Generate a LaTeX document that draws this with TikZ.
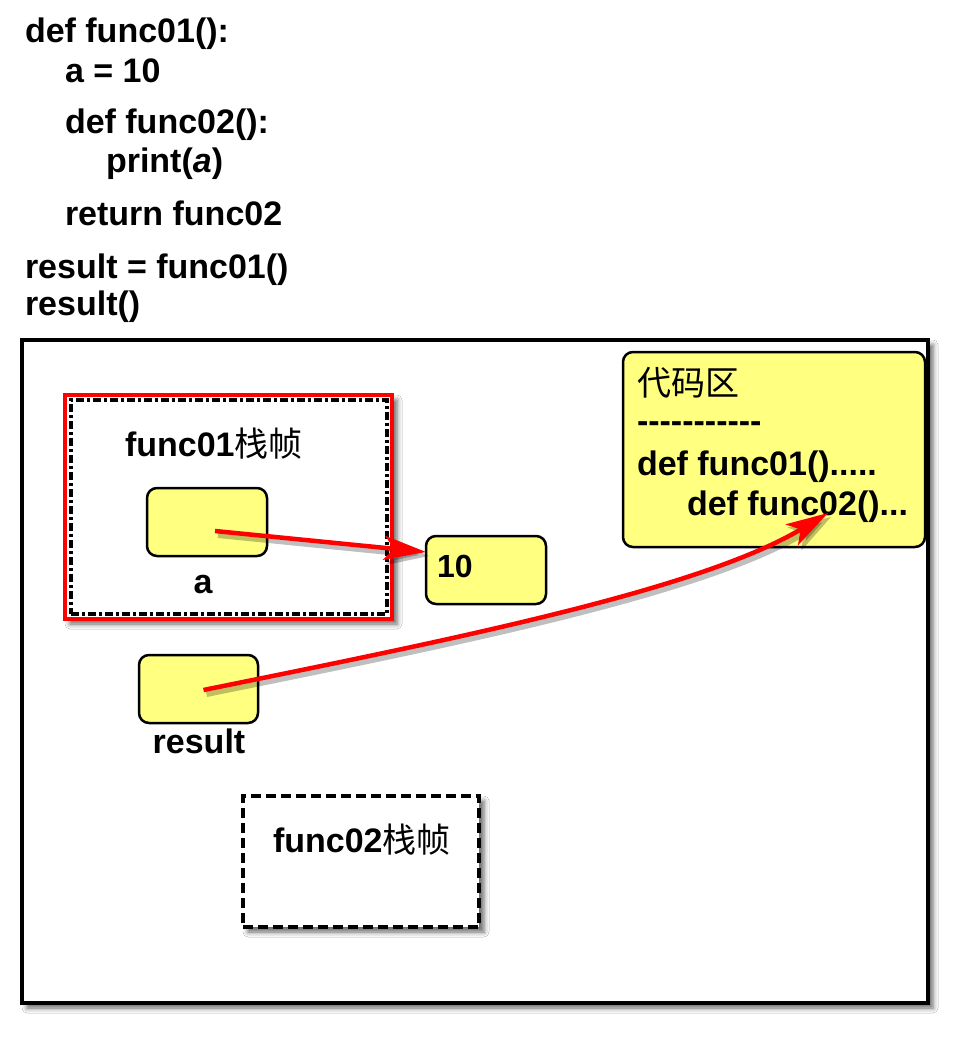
\documentclass[tikz,border=0pt]{standalone}
\usepackage{fontspec}
\setmainfont{Liberation Sans}
\newfontfamily\cjk{Noto Sans CJK SC}
\usetikzlibrary{arrows.meta,shadows.blur,calc}
\definecolor{boxyellow}{RGB}{255,255,128}
\newcommand\hy{-\kern0pt}
\begin{document}
\begin{tikzpicture}[x=1pt,y=-1pt,
  code/.style={anchor=base west, inner sep=0pt, outer sep=0pt, font=\bfseries\fontsize{34}{40}\selectfont},
  lbl/.style={anchor=base, inner sep=0pt, outer sep=0pt, font=\bfseries\fontsize{34}{40}\selectfont},
  rect/.style={anchor=north west, inner sep=0pt, outer sep=0pt, rectangle},
  ybox/.style={rect, draw=black, line width=2.5pt, fill=boxyellow, rounded corners=10pt},
  fshadow/.style={blur shadow={shadow xshift=5pt, shadow yshift=-5pt, shadow blur radius=5pt, shadow opacity=60}},
  redarrow/.style={draw=red, line width=4.5pt, -{Stealth[length=42pt,width=24pt,inset=10pt]}},
  arrshadow/.style={draw=black, opacity=0.25, line width=6pt, -{Stealth[length=42pt,width=26pt,inset=10pt]}}
]
\useasboundingbox (0,0) rectangle (972,1049);
\fill[white] (0,0) rectangle (972,1049);

% source code
\node[code] (l1) at (25,43) {def func01():};
\node[code] (l2) at (65,82) {a = 10};
\node[code] (l3) at (65,133) {def func02():};
\node[code] (l4) at (106,172) {print(\textit{a})};
\node[code] (l5) at (65,225) {return func02};
\node[code] (l6) at (25,278) {result = func01()};
\node[code] (l7) at (25,315) {result()};

% memory frame
\node[rect, draw=black, line width=4pt, fill=white, fshadow, minimum width=906pt, minimum height=663pt] (mem) at (22,340) {};

% func01 frame
\node[rect, draw=red, line width=4pt, fill=white, fshadow, minimum width=327pt, minimum height=224pt] (f1) at (65,395) {};
\node[rect, draw=black, line width=3.5pt, dash pattern=on 8pt off 3pt on 3pt off 3pt, minimum width=316pt, minimum height=214pt] (f1in) at (71,400) {};
\node[code] (f1t) at (125,456) {func01{\cjk\mdseries 栈帧}};

% box a
\node[ybox, minimum width=120pt, minimum height=68pt] (abox) at (147,488) {};
\node[lbl] (alab) at (203,593) {a};

% box 10
\node[ybox, minimum width=120pt, minimum height=68pt] (ten) at (426,536) {};
\node[code, font=\bfseries\fontsize{32}{38}\selectfont] (tent) at (437,577) {10};

% result box
\node[ybox, minimum width=119pt, minimum height=68pt] (res) at (139,655) {};
\node[lbl] (reslab) at (199,753) {result};

% func02 frame
\node[rect, draw=black, line width=3.5pt, dash pattern=on 10pt off 5pt, fill=white, fshadow, minimum width=236pt, minimum height=131pt] (f2) at (243,796) {};
\node[code] (f2t) at (273,852) {func02{\cjk\mdseries 栈帧}};

% code area
\node[ybox, minimum width=302pt, minimum height=195pt] (codebox) at (623,352) {};
\node[code, font=\fontsize{34}{40}\selectfont] (c1) at (637,395) {\cjk 代码区};
\node[code] (c2) at (637,432) {\hy\hy\hy\hy\hy\hy\hy\hy\hy\hy-};
\node[code] (c3) at (637,475) {def func01().....};
\node[code] (c4) at (687,515) {def func02()...};
\coordinate (f2ref) at (828,513);

% arrows
\coordinate (aS) at ($(abox.center)+(8,9)$);
\coordinate (tE) at ($(ten.west)+(0,-18)$);
\coordinate (rS) at ($(res.center)+(5,1)$);
\draw[arrshadow] ($(aS)+(3,4)$) -- ($(tE)+(3,4)$);
\draw[arrshadow] ($(rS)+(3,4)$) .. controls (453,644) and (703,594) .. ($(f2ref)+(3,4)$);
\draw[redarrow] (aS) -- (tE);
\draw[redarrow] (rS) .. controls (450,640) and (700,590) .. (f2ref);
\end{tikzpicture}
\end{document}
